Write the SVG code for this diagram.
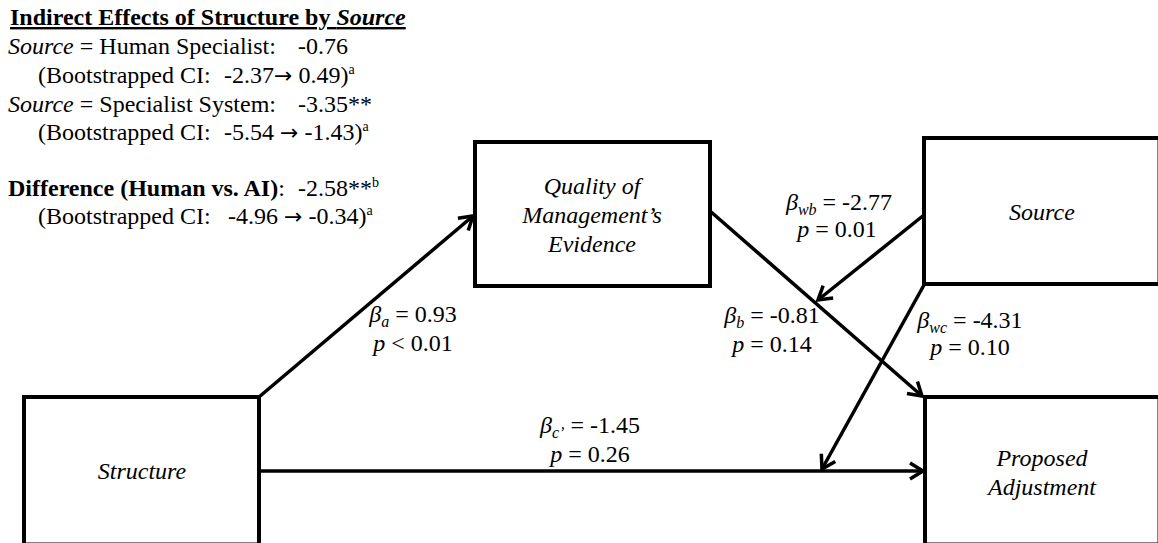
<svg xmlns="http://www.w3.org/2000/svg" width="1158" height="543" viewBox="0 0 1158 543">
<style>
text{font-family:'Liberation Serif','Times New Roman',serif;font-size:24px;fill:#000}
.box{fill:#fff;stroke:#000;stroke-width:4}
.edge{fill:none;stroke:#000;stroke-width:3.5;marker-end:url(#arr)}
.c{text-anchor:middle}
.it{font-style:italic}
.b{font-weight:bold}
.sub{font-size:16px;font-style:italic}
.sup{font-size:14px}
.ar{font-family:'DejaVu Sans',sans-serif;font-size:22px}
</style>
<defs>
<marker id="arr" markerUnits="userSpaceOnUse" viewBox="0 0 30 30" markerWidth="30" markerHeight="30" refX="15" refY="15" orient="auto">
<path d="M2,7 L15,15 L2,23" fill="none" stroke="#000" stroke-width="3.5"/>
</marker>
</defs>
<rect width="1158" height="543" fill="#fff"/>

<g id="legend">
<text x="10" y="25" class="b" text-decoration="underline">Indirect Effects of Structure by <tspan class="it">Source</tspan></text>
<text y="54"><tspan x="8" class="it">Source</tspan> = Human Specialist:<tspan x="298">-0.76</tspan></text>
<text y="83"><tspan x="38">(Bootstrapped CI:</tspan><tspan x="224">-2.37</tspan><tspan class="ar">→</tspan> 0.49)<tspan class="sup" dy="-9">a</tspan></text>
<text y="112"><tspan x="8" class="it">Source</tspan> = Specialist System:<tspan x="298">-3.35**</tspan></text>
<text y="140"><tspan x="38">(Bootstrapped CI:</tspan><tspan x="224">-5.54 </tspan><tspan class="ar">→</tspan> -1.43)<tspan class="sup" dy="-9">a</tspan></text>
<text y="196"><tspan x="8" class="b">Difference (Human vs. AI)</tspan>:<tspan x="298">-2.58**</tspan><tspan class="sup" dy="-9">b</tspan></text>
<text y="224"><tspan x="38">(Bootstrapped CI:</tspan><tspan x="228">-4.96 </tspan><tspan class="ar">→</tspan> -0.34)<tspan class="sup" dy="-9">a</tspan></text>
</g>

<g id="node-quality">
<rect class="box" x="475" y="142" width="235" height="144"/>
<text class="c it" x="592" y="194">Quality of</text>
<text class="c it" x="592" y="223">Management’s</text>
<text class="c it" x="592" y="252">Evidence</text>
</g>

<g id="node-source">
<rect class="box" x="924" y="138" width="235.5" height="146"/>
<text class="c it" x="1042" y="220">Source</text>
</g>

<g id="node-structure">
<rect class="box" x="24" y="397" width="235" height="147.5"/>
<text class="c it" x="142" y="479">Structure</text>
</g>

<g id="node-adjustment">
<rect class="box" x="925" y="397" width="234.5" height="147.5"/>
<text class="c it" x="1042" y="466">Proposed</text>
<text class="c it" x="1042" y="495">Adjustment</text>
</g>

<g id="connectors">
<line class="edge" x1="259" y1="397" x2="473" y2="216"/>
<line class="edge" x1="710" y1="211" x2="922" y2="396"/>
<line class="edge" x1="924" y1="215" x2="818" y2="300"/>
<line class="edge" x1="924" y1="285" x2="822" y2="469"/>
<line class="edge" x1="259" y1="471" x2="923" y2="471"/>
</g>

<g id="labels">
<text class="c" x="413" y="322"><tspan class="it">β</tspan><tspan class="sub" dy="5">a</tspan><tspan dy="-5"> = 0.93</tspan></text>
<text class="c" x="413" y="351"><tspan class="it">p</tspan> &lt; 0.01</text>
<text class="c" x="772" y="323"><tspan class="it">β</tspan><tspan class="sub" dy="5">b</tspan><tspan dy="-5"> = -0.81</tspan></text>
<text class="c" x="772" y="352"><tspan class="it">p</tspan> = 0.14</text>
<text class="c" x="839" y="210"><tspan class="it">β</tspan><tspan class="sub" dy="5">wb</tspan><tspan dy="-5"> = -2.77</tspan></text>
<text class="c" x="837" y="237"><tspan class="it">p</tspan> = 0.01</text>
<text class="c" x="970" y="328"><tspan class="it">β</tspan><tspan class="sub" dy="5">wc</tspan><tspan dy="-5"> = -4.31</tspan></text>
<text class="c" x="970" y="355"><tspan class="it">p</tspan> = 0.10</text>
<text class="c" x="590" y="433"><tspan class="it">β</tspan><tspan class="sub" dy="5">c’</tspan><tspan dy="-5"> = -1.45</tspan></text>
<text class="c" x="590" y="462"><tspan class="it">p</tspan> = 0.26</text>
</g>
</svg>
